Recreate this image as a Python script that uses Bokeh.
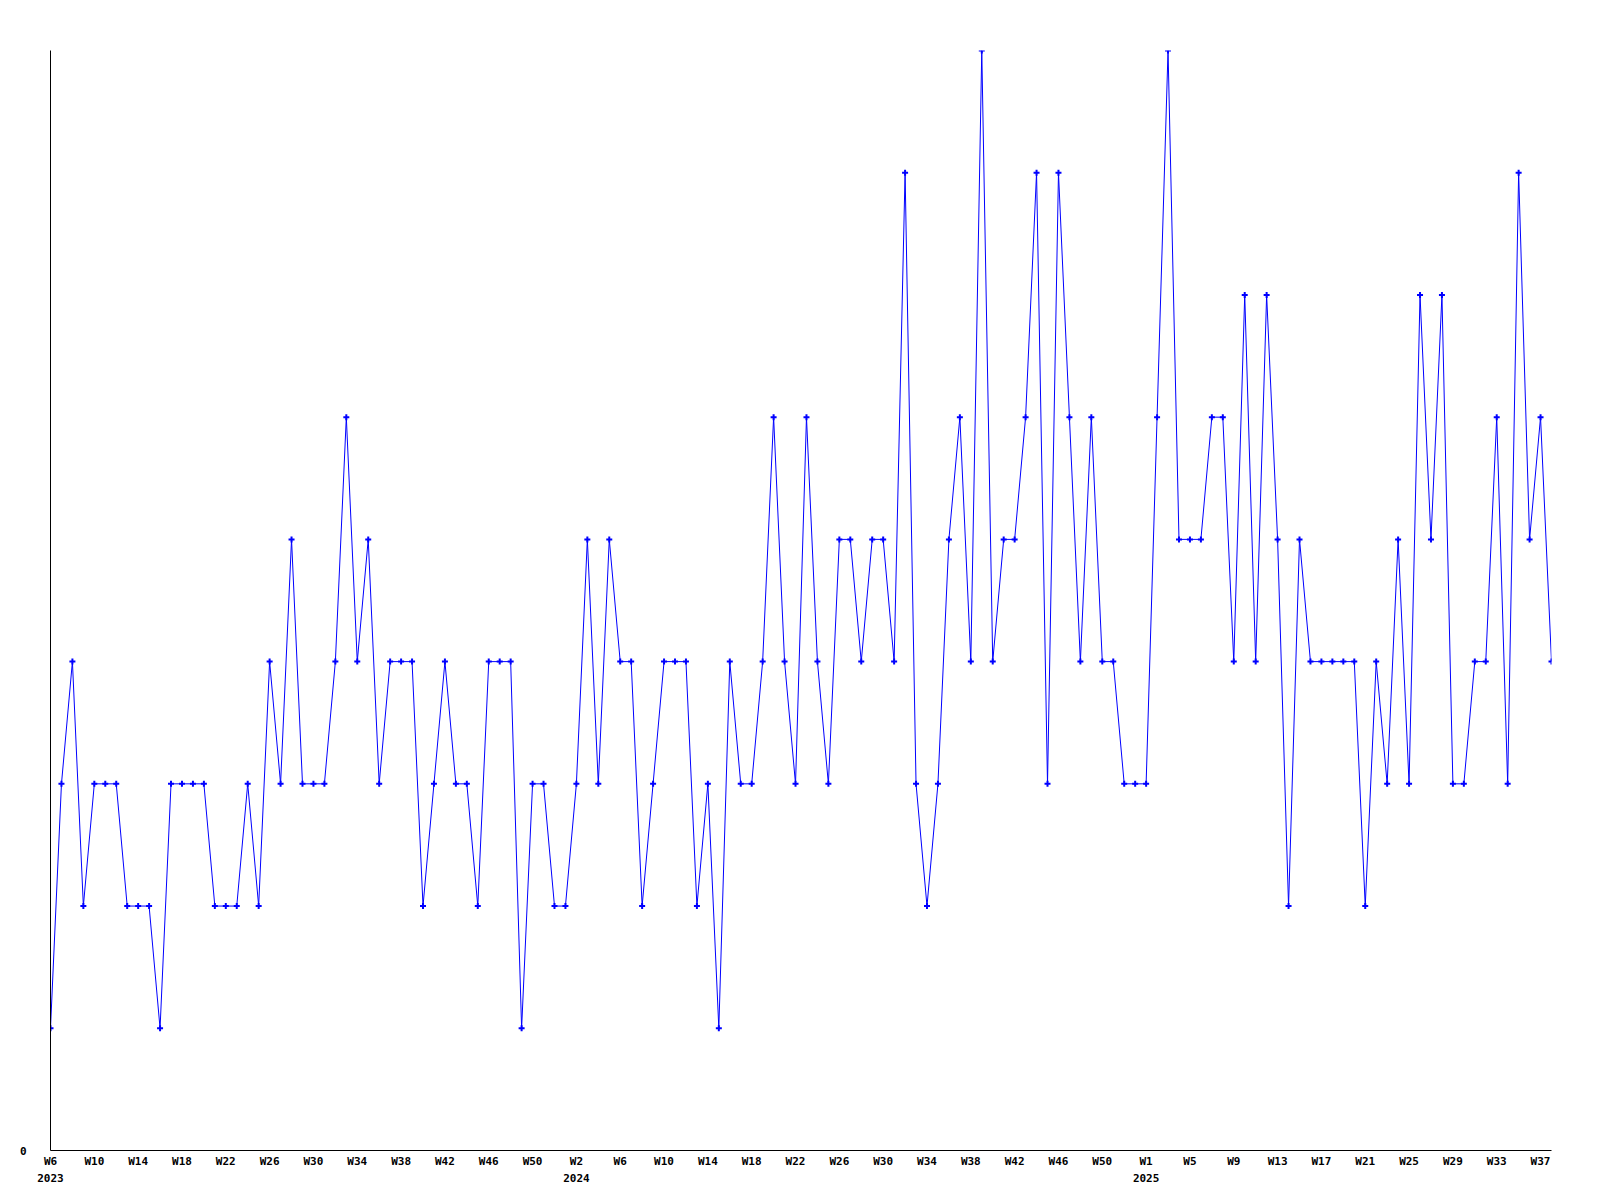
from bokeh.plotting import figure
from bokeh.models import Range1d, FixedTicker
from bokeh.embed import file_html
from bokeh.resources import INLINE

# Weekly counts, 2023-W6 .. 2025-W38
counts = [
    1, 3, 4, 2, 3, 3, 3, 2, 2, 2,
    1, 3, 3, 3, 3, 2, 2, 2, 3, 2,
    4, 3, 5, 3, 3, 3, 4, 6, 4, 5,
    3, 4, 4, 4, 2, 3, 4, 3, 3, 2,
    4, 4, 4, 1, 3, 3, 2, 2, 3, 5,
    3, 5, 4, 4, 2, 3, 4, 4, 4, 2,
    3, 1, 4, 3, 3, 4, 6, 4, 3, 6,
    4, 3, 5, 5, 4, 5, 5, 4, 8, 3,
    2, 3, 5, 6, 4, 9, 4, 5, 5, 6,
    8, 3, 8, 6, 4, 6, 4, 4, 3, 3,
    3, 6, 9, 5, 5, 5, 6, 6, 4, 7,
    4, 7, 5, 2, 5, 4, 4, 4, 4, 4,
    2, 4, 3, 5, 3, 7, 5, 7, 3, 3,
    4, 4, 6, 3, 8, 5, 6, 4,
]

# Tick labels, one every 4 weeks
tick_labels = [
    "W6\n2023", "W10", "W14", "W18", "W22", "W26", "W30", "W34", "W38",
    "W42", "W46", "W50", "W2\n2024", "W6", "W10", "W14", "W18", "W22",
    "W26", "W30", "W34", "W38", "W42", "W46", "W50", "W1\n2025", "W5",
    "W9", "W13", "W17", "W21", "W25", "W29", "W33", "W37",
]

y_ticks = [0]
y_max = 9

x = list(range(len(counts)))
tick_pos = list(range(0, len(counts), 4))[:len(tick_labels)]

p = figure(frame_width=1501, frame_height=1100, output_backend="svg",
           toolbar_location=None,
           x_range=Range1d(0, len(counts) - 1), y_range=Range1d(0, y_max),
           min_border_left=50, min_border_right=30, min_border_top=50,
           min_border_bottom=30)

p.line(x, counts, line_color="#0000ff", line_width=1)
p.scatter(x, counts, marker="cross", size=6, line_color="#0000ff", line_width=2)

p.grid.visible = False
p.outline_line_color = None
p.background_fill_color = "white"
p.border_fill_color = "white"

for ax in (p.xaxis[0], p.yaxis[0]):
    ax.major_tick_out = 0
    ax.major_tick_in = 0
    ax.minor_tick_out = 0
    ax.minor_tick_in = 0
    ax.major_label_text_font = "DejaVu Sans Mono"
    ax.major_label_text_font_style = "bold"
    ax.major_label_text_font_size = "11px"
    ax.major_label_text_color = "black"
    ax.axis_line_color = "black"
    ax.axis_line_width = 1

xa = p.xaxis[0]
xa.ticker = FixedTicker(ticks=tick_pos)
xa.major_label_overrides = {pos: lab for pos, lab in zip(tick_pos, tick_labels)}
xa.major_label_standoff = 4
xa.major_label_text_line_height = 1.35

ya = p.yaxis[0]
ya.ticker = FixedTicker(ticks=y_ticks)
ya.major_label_standoff = 24

open("out.html", "w").write(file_html(p, INLINE))
